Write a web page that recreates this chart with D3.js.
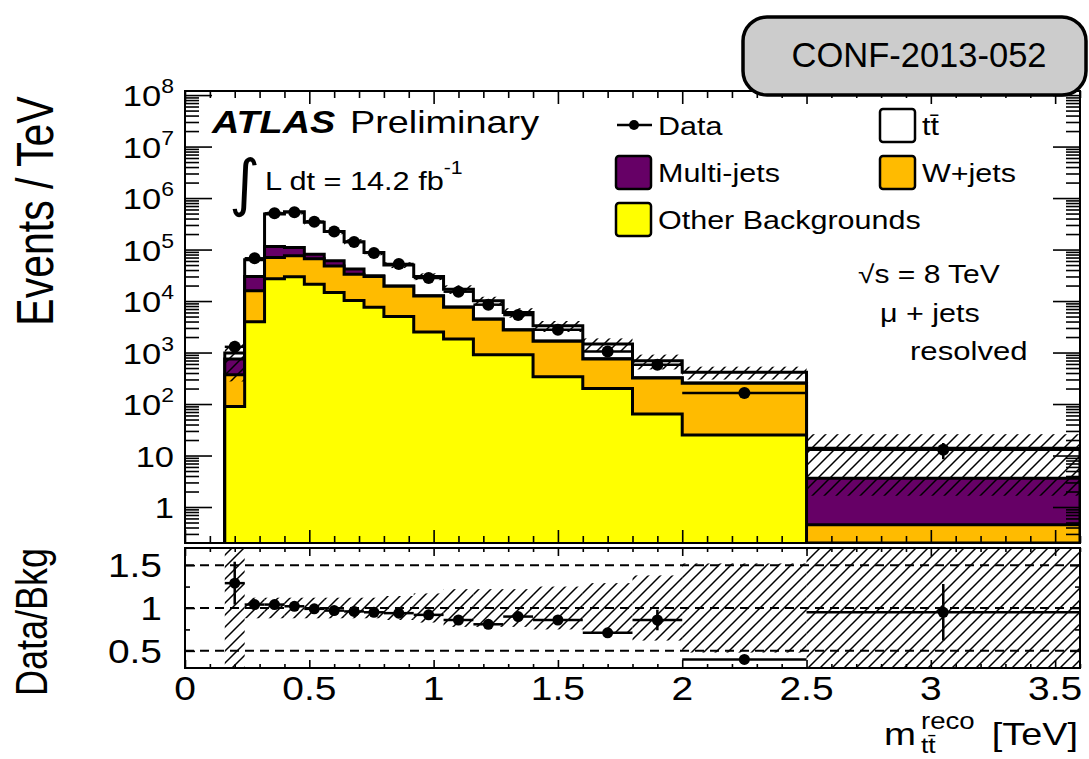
<!DOCTYPE html>
<html>
<head>
<meta charset="utf-8">
<script src="https://cdn.jsdelivr.net/npm/d3@7"></script>
<style>
  body { margin: 0; background: #fff; }
  svg { display: block; }
  text { font-family: "Liberation Sans", Arial, Helvetica, sans-serif; fill: #000; }
</style>
</head>
<body>
<div id="chart"></div>
<script>
// bin edges of m_tt reco in TeV (last bin runs past the frame)
const binEdges = [0.16, 0.24, 0.32, 0.40, 0.48, 0.56, 0.64, 0.72, 0.80, 0.92, 1.04, 1.16, 1.28, 1.40, 1.60, 1.80, 2.00, 2.50, 3.60];

// stacked predictions, events / TeV
const otherBkg = [90, 3960, 27000, 29500, 21300, 14700, 10200, 7600, 5000, 2500, 1830, 910, 910, 340, 200, 64, 25, 0.1];
const wJets    = [281, 11840, 43000, 46500, 44700, 33300, 22800, 22400, 14300, 10100, 5770, 3540, 1840, 1310, 550, 256, 227, 0.35];
const multiJet = [377, 14200, 45000, 34000, 15000, 12800, 9000, 1000, 200, 100, 80, 50, 30, 20, 10, 5, 3, 3.15];
const ttbar    = [232, 33500, 375000, 430000, 257000, 162200, 100000, 57000, 30700, 17300, 9300, 5600, 3220, 1630, 710, 365, 160, 10.2];

// data points
const dataVals = [1290, 67600, 505000, 530000, 348000, 223000, 140000, 86000, 52500, 28000, 15200, 8500, 5350, 2760, 1050, 580, 163, 13];

// relative uncertainty of the prediction as drawn in the top panel
const bkgUnc = [0.72, 0.12, 0.11, 0.11, 0.11, 0.11, 0.12, 0.12, 0.13, 0.15, 0.19, 0.20, 0.21, 0.24, 0.28, 0.32, 0.28, 0.88];

// ratio panel
const ratioVals = [1.29, 1.04, 1.04, 1.02, 0.99, 0.97, 0.96, 0.95, 0.94, 0.92, 0.86, 0.81, 0.90, 0.86, 0.71, 0.86, 0.40, 0.95];
const ratioErr  = [0.25, 0.01, 0.005, 0.005, 0.005, 0.006, 0.008, 0.01, 0.01, 0.015, 0.02, 0.025, 0.03, 0.035, 0.05, 0.12, 0.04, 0.33];
const ratioBand = [0.72, 0.12, 0.12, 0.12, 0.12, 0.12, 0.12, 0.12, 0.14, 0.17, 0.22, 0.22, 0.22, 0.25, 0.29, 0.38, 0.52, 0.90];

const xTickVals = [0, 0.5, 1, 1.5, 2, 2.5, 3, 3.5];
const xTickLabels = ["0", "0.5", "1", "1.5", "2", "2.5", "3", "3.5"];
const yDecades = [0, 1, 2, 3, 4, 5, 6, 7, 8];
const ratioTickVals = [0.5, 1, 1.5];
const ratioTickLabels = ["0.5", "1", "1.5"];

const legendItems = [
    { label: "Multi-jets", color: "#660066", col: 0, row: 1 },
    { label: "W+jets", color: "#ffbb00", col: 1, row: 1 },
    { label: "Other Backgrounds", color: "#ffff00", col: 0, row: 2 },
    { label: "t\u0074\u0304", color: "#ffffff", col: 1, row: 0 }
];

const W = 1089, H = 759;
const SX = 1.22; // the picture is stretched sideways a bit

const svg = d3.select("#chart").append("svg")
    .attr("width", W).attr("height", H);

const defs = svg.append("defs");
const pat = defs.append("pattern")
    .attr("id", "hatch")
    .attr("patternUnits", "userSpaceOnUse")
    .attr("width", 12).attr("height", 12);
pat.append("path")
    .attr("d", "M-1,1 l2,-2 M0,12 l12,-12 M11,13 l2,-2")
    .attr("stroke", "#000").attr("stroke-width", 1.5);

// frames
const main = { left: 185, right: 1080, top: 91, bottom: 543 };
const rat = { left: 185, right: 1080, top: 548, bottom: 668 };

defs.append("clipPath").attr("id", "clipMain").append("rect")
    .attr("x", main.left).attr("y", main.top)
    .attr("width", main.right - main.left).attr("height", main.bottom - main.top);
defs.append("clipPath").attr("id", "clipRat").append("rect")
    .attr("x", rat.left).attr("y", rat.top)
    .attr("width", rat.right - rat.left).attr("height", rat.bottom - rat.top);

const x = d3.scaleLinear().domain([0, 3.6]).range([main.left, main.right]);
const y = d3.scaleLog().domain([0.2, 1.2e8]).range([main.bottom, main.top]).clamp(true);
const r = d3.scaleLinear().domain([0.3, 1.7]).range([rat.bottom, rat.top]);

// helper for the stretched text
function txt(parent, px, py, s, size, opt = {}) {
    const g = parent.append("g")
        .attr("transform", `translate(${px},${py})` + (opt.rot ? " rotate(-90)" : "") +
            ` scale(${opt.sx ?? SX},${opt.sy ?? 1})`);
    const t = g.append("text")
        .attr("font-size", size)
        .attr("text-anchor", opt.anchor || "start");
    if (opt.weight) t.attr("font-weight", opt.weight);
    if (opt.style) t.attr("font-style", opt.style);
    if (opt.family) t.style("font-family", opt.family);
    t.text(s);
    return t;
}

// ---------- main panel ----------
const nb = dataVals.length;
const rows = d3.range(nb).map(i => ({
    other: otherBkg[i], wjets: wJets[i], multi: multiJet[i], tt: ttbar[i]
}));
const stack = d3.stack().keys(["other", "wjets", "multi", "tt"])(rows);
const fills = { other: "#ffff00", wjets: "#ffbb00", multi: "#660066", tt: "#ffffff" };

const gMain = svg.append("g").attr("clip-path", "url(#clipMain)");

const area = d3.area()
    .curve(d3.curveStepAfter)
    .x(d => x(d.e))
    .y0(main.bottom + 5)
    .y1(d => y(d.v));

// draw from the top of the stack down so each lower layer sits on top
stack.slice().reverse().forEach(s => {
    const pts = s.map((d, i) => ({ e: binEdges[i], v: d[1] }));
    pts.push({ e: binEdges[nb], v: s[nb - 1][1] });
    gMain.append("path")
        .attr("d", area(pts))
        .attr("fill", fills[s.key])
        .attr("stroke", "#000")
        .attr("stroke-width", 3)
        .attr("stroke-linejoin", "miter");
});

const totals = stack[stack.length - 1].map(d => d[1]);

// uncertainty band
gMain.selectAll("rect.band")
    .data(d3.range(nb))
    .enter().append("rect")
    .attr("class", "band")
    .attr("x", i => x(binEdges[i]))
    .attr("width", i => x(binEdges[i + 1]) - x(binEdges[i]))
    .attr("y", i => y(totals[i] * (1 + bkgUnc[i])))
    .attr("height", i => y(Math.max(totals[i] * (1 - bkgUnc[i]), 0.01)) - y(totals[i] * (1 + bkgUnc[i])))
    .attr("fill", "url(#hatch)");

// data
const dataG = gMain.append("g");
d3.range(nb).forEach(i => {
    const cx = x((binEdges[i] + binEdges[i + 1]) / 2);
    const err = dataVals[i] * ratioErr[i] / ratioVals[i];
    dataG.append("line")
        .attr("x1", x(binEdges[i])).attr("x2", x(binEdges[i + 1]))
        .attr("y1", y(dataVals[i])).attr("y2", y(dataVals[i]))
        .attr("stroke", "#000").attr("stroke-width", 2.5);
    dataG.append("line")
        .attr("x1", cx).attr("x2", cx)
        .attr("y1", y(dataVals[i] + err)).attr("y2", y(dataVals[i] - err))
        .attr("stroke", "#000").attr("stroke-width", 2.5);
    dataG.append("circle")
        .attr("cx", cx).attr("cy", y(dataVals[i])).attr("r", 6)
        .attr("fill", "#000");
});

// ---------- ratio panel ----------
const gRat = svg.append("g").attr("clip-path", "url(#clipRat)");

gRat.selectAll("rect.band")
    .data(d3.range(nb))
    .enter().append("rect")
    .attr("class", "band")
    .attr("x", i => x(binEdges[i]))
    .attr("width", i => x(binEdges[i + 1]) - x(binEdges[i]))
    .attr("y", i => r(1 + ratioBand[i]))
    .attr("height", i => r(1 - ratioBand[i]) - r(1 + ratioBand[i]))
    .attr("fill", "url(#hatch)");

ratioTickVals.forEach(v => {
    gRat.append("line")
        .attr("x1", rat.left).attr("x2", rat.right)
        .attr("y1", r(v)).attr("y2", r(v))
        .attr("stroke", "#000").attr("stroke-width", 2)
        .attr("stroke-dasharray", "9,6");
});

d3.range(nb).forEach(i => {
    const cx = x((binEdges[i] + binEdges[i + 1]) / 2);
    gRat.append("line")
        .attr("x1", x(binEdges[i])).attr("x2", x(binEdges[i + 1]))
        .attr("y1", r(ratioVals[i])).attr("y2", r(ratioVals[i]))
        .attr("stroke", "#000").attr("stroke-width", 2.5);
    gRat.append("line")
        .attr("x1", cx).attr("x2", cx)
        .attr("y1", r(ratioVals[i] + ratioErr[i])).attr("y2", r(ratioVals[i] - ratioErr[i]))
        .attr("stroke", "#000").attr("stroke-width", 2.5);
    gRat.append("circle")
        .attr("cx", cx).attr("cy", r(ratioVals[i])).attr("r", 5.5)
        .attr("fill", "#000");
});

// ---------- axes (ticks inward, ROOT style) ----------
const xMinor = d3.range(0, 37).filter(i => i % 5 !== 0).map(i => i / 10);
const yMinor = [];
for (let e = -1; e <= 8; e++) {
    for (let m = 2; m <= 9; m++) {
        const v = m * Math.pow(10, e);
        if (v > 0.2 && v < 1.2e8) yMinor.push(v);
    }
}
const yMajor = yDecades.map(e => Math.pow(10, e));
const rMinor = [0.75, 1.25];

function tickAxis(axis, tx, ty) {
    const g = svg.append("g")
        .attr("transform", `translate(${tx},${ty})`)
        .call(axis);
    g.select(".domain").remove();
    g.selectAll("line").attr("stroke", "#000").attr("stroke-width", 1.6);
    g.selectAll("text").remove();
}

// main panel
tickAxis(d3.axisBottom(x).tickValues(xTickVals).tickSize(-13), 0, main.bottom);
tickAxis(d3.axisBottom(x).tickValues(xMinor).tickSize(-7), 0, main.bottom);
tickAxis(d3.axisTop(x).tickValues(xTickVals).tickSize(-13), 0, main.top);
tickAxis(d3.axisTop(x).tickValues(xMinor).tickSize(-7), 0, main.top);
tickAxis(d3.axisLeft(y).tickValues(yMajor).tickSize(-27), main.left, 0);
tickAxis(d3.axisLeft(y).tickValues(yMinor).tickSize(-14), main.left, 0);
tickAxis(d3.axisRight(y).tickValues(yMajor).tickSize(-27), main.right, 0);
tickAxis(d3.axisRight(y).tickValues(yMinor).tickSize(-14), main.right, 0);

// ratio panel
tickAxis(d3.axisBottom(x).tickValues(xTickVals).tickSize(-8), 0, rat.bottom);
tickAxis(d3.axisBottom(x).tickValues(xMinor).tickSize(-4), 0, rat.bottom);
tickAxis(d3.axisTop(x).tickValues(xTickVals).tickSize(-8), 0, rat.top);
tickAxis(d3.axisTop(x).tickValues(xMinor).tickSize(-4), 0, rat.top);
tickAxis(d3.axisLeft(r).tickValues(ratioTickVals).tickSize(-10), rat.left, 0);
tickAxis(d3.axisLeft(r).tickValues(rMinor).tickSize(-5), rat.left, 0);
tickAxis(d3.axisRight(r).tickValues(ratioTickVals).tickSize(-10), rat.right, 0);
tickAxis(d3.axisRight(r).tickValues(rMinor).tickSize(-5), rat.right, 0);

// frames
[main, rat].forEach(f => {
    svg.append("rect")
        .attr("x", f.left).attr("y", f.top)
        .attr("width", f.right - f.left).attr("height", f.bottom - f.top)
        .attr("fill", "none").attr("stroke", "#000").attr("stroke-width", 2);
});

// ---------- tick labels ----------
yDecades.forEach(e => {
    const t = txt(svg, 174, y(Math.pow(10, e)) + 11, "", 30, { anchor: "end", sx: 1.15 });
    if (e === 0) t.text("1");
    else if (e === 1) t.text("10");
    else {
        t.append("tspan").text("10");
        t.append("tspan").attr("font-size", 20).attr("dy", -13).text(e);
    }
});

ratioTickVals.forEach((v, i) => {
    txt(svg, 162, r(v) + 12, ratioTickLabels[i], 33, { anchor: "end", sx: 1.18 });
});

xTickVals.forEach((v, i) => {
    txt(svg, x(v), 700, xTickLabels[i], 33, { anchor: "middle", sx: 1.18 });
});

// axis titles
txt(svg, 53, 211, "Events / TeV", 41, { rot: true, anchor: "middle", sx: 1, sy: 1.27 });
txt(svg, 47, 622, "Data/Bkg", 36, { rot: true, anchor: "middle", sx: 1, sy: 1.24 });

txt(svg, 884, 745, "m", 32, { sx: 1.2 });
txt(svg, 921, 729, "reco", 23, { sx: 1.2 });
txt(svg, 921, 753, "t\u0074\u0304", 22, { sx: 1.2 });
txt(svg, 1078, 745, "[TeV]", 31, { anchor: "end", sx: 1.22 });

// ---------- annotations ----------
txt(svg, 212, 133, "ATLAS", 31, { weight: "bold", style: "italic" });
txt(svg, 350, 133, "Preliminary", 31);
txt(svg, 229, 204, "\u222B", 54, { sx: 1.1, sy: 1.15, family: "DejaVu Sans" });
const lumi = txt(svg, 265, 190, "L dt = 14.2 fb", 26, { sx: 1.18 });
lumi.append("tspan").attr("font-size", 18).attr("dy", -16).text("-1");

txt(svg, 858, 283, "\u221As = 8 TeV", 25, { sx: 1.2 });
txt(svg, 880, 322, "\u03BC + jets", 25, { sx: 1.22 });
txt(svg, 910, 360, "resolved", 25.5, { sx: 1.22 });

// ---------- legend ----------
const legCols = [616, 880];
const legRows = [109, 156, 203];
const lg = svg.append("g");
lg.append("line")
    .attr("x1", 617).attr("x2", 652).attr("y1", 125).attr("y2", 125)
    .attr("stroke", "#000").attr("stroke-width", 2.5);
lg.append("circle").attr("cx", 634).attr("cy", 125).attr("r", 5).attr("fill", "#000");
txt(lg, 658, 135, "Data", 25);

legendItems.forEach(d => {
    lg.append("rect")
        .attr("x", legCols[d.col]).attr("y", legRows[d.row])
        .attr("width", 35).attr("height", 33).attr("rx", 3)
        .attr("fill", d.color).attr("stroke", "#000").attr("stroke-width", 2.5);
    txt(lg, legCols[d.col] + 42, legRows[d.row] + 26, d.label, 25);
});

// ---------- note box ----------
svg.append("rect")
    .attr("x", 743).attr("y", 17).attr("width", 343).attr("height", 78).attr("rx", 24)
    .attr("fill", "#cccccc").attr("stroke", "#000").attr("stroke-width", 3.5);
txt(svg, 919, 67, "CONF-2013-052", 34.5, { anchor: "middle", sx: 1 });
</script>
</body>
</html>
